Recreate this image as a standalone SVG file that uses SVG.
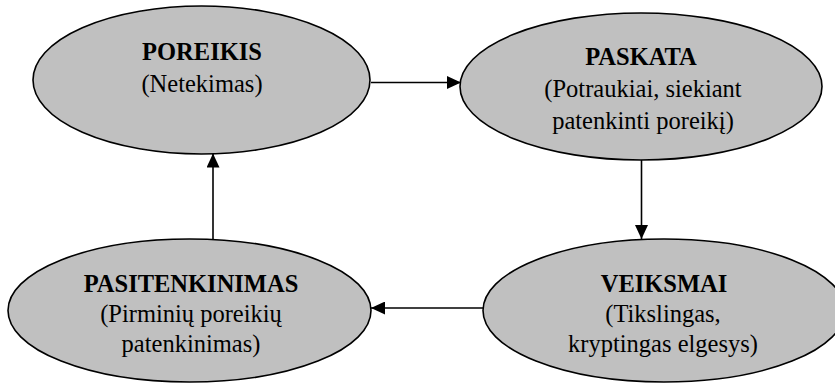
<svg xmlns="http://www.w3.org/2000/svg" width="835" height="383" viewBox="0 0 835 383">
  <style>
    .node ellipse { fill: #c0c0c0; stroke: #000; stroke-width: 1.6; }
    .node text { font-family: "Liberation Serif", "Times New Roman", serif; font-size: 24.5px; fill: #000; text-anchor: middle; }
    .node .title { font-weight: bold; }
    .edge { stroke: #000; stroke-width: 1.6; fill: none; marker-end: url(#arrow); }
  </style>
  <defs>
    <marker id="arrow" viewBox="0 0 14 13" refX="14" refY="6.5" markerWidth="14" markerHeight="13" markerUnits="userSpaceOnUse" orient="auto">
      <path d="M0,0 L14,6.5 L0,13 Z" fill="#000"/>
    </marker>
  </defs>
  <rect width="835" height="383" fill="#fff"/>

  <g id="connectors">
    <line class="edge" x1="371" y1="82.5" x2="461" y2="82.5"/>
    <line class="edge" x1="641.5" y1="160" x2="641.5" y2="239"/>
    <line class="edge" x1="483" y1="308" x2="371" y2="308"/>
    <line class="edge" x1="213" y1="240" x2="213" y2="153.5"/>
  </g>

  <g id="poreikis" class="node">
    <ellipse cx="201.5" cy="80" rx="168.5" ry="74"/>
    <text class="title" x="202" y="60">POREIKIS</text>
    <text x="202" y="92">(Netekimas)</text>
  </g>

  <g id="paskata" class="node">
    <ellipse cx="641" cy="86.5" rx="181" ry="73.5"/>
    <text class="title" x="641" y="65">PASKATA</text>
    <text x="643" y="97">(Potraukiai, siekiant</text>
    <text x="643" y="128.5">patenkinti poreikį)</text>
  </g>

  <g id="veiksmai" class="node">
    <ellipse cx="664" cy="310.5" rx="181" ry="71.5"/>
    <text class="title" x="664" y="292">VEIKSMAI</text>
    <text x="663" y="322">(Tikslingas,</text>
    <text x="663" y="351.5">kryptingas elgesys)</text>
  </g>

  <g id="pasitenkinimas" class="node">
    <ellipse cx="189.5" cy="310.5" rx="181.5" ry="71.5"/>
    <text class="title" x="191" y="292">PASITENKINIMAS</text>
    <text x="191" y="322">(Pirminių poreikių</text>
    <text x="191" y="351.5">patenkinimas)</text>
  </g>
</svg>
